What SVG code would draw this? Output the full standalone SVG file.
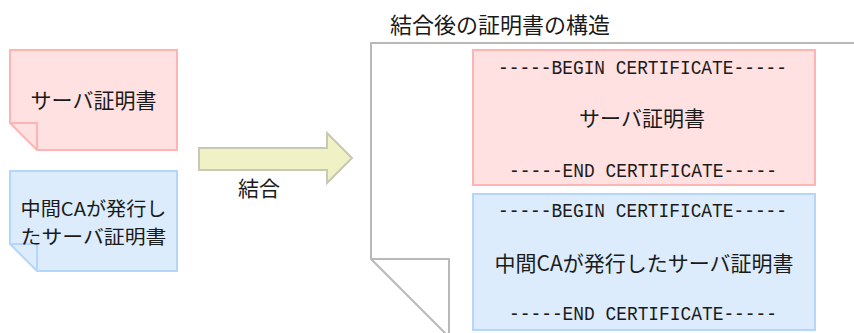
<svg xmlns="http://www.w3.org/2000/svg" width="854" height="333" viewBox="0 0 854 333">
<style>
.pink{fill:#ffe1e1;stroke:#ffb4b4;stroke-width:2}
.blue{fill:#dcecfc;stroke:#b4d6fa;stroke-width:2}
.fold{fill:none;stroke-width:2;stroke-linejoin:miter}
.doc{fill:#ffffff;stroke:#b9b9b9;stroke-width:2}
.jp{font-family:"Noto Sans CJK JP","Noto Sans",sans-serif;font-size:21px;fill:#1a1a1a;text-anchor:middle}
.mono{font-family:"Liberation Mono","DejaVu Sans Mono",monospace;font-size:21px;fill:#1a1a1a;text-anchor:middle}
</style>
<rect width="854" height="333" fill="#ffffff"/>
<g id="server-cert">
<path class="pink" d="M10,50 H177 V150 H37 L10,123 Z"/>
<path class="fold" stroke="#ffb4b4" d="M10,123 H37 V150"/>
<text class="jp" x="93.5" y="108">サーバ証明書</text>
</g>
<g id="intermediate-cert">
<path class="blue" d="M10,171 H177 V271 H37 L10,244 Z"/>
<path class="fold" stroke="#b4d6fa" d="M10,244 H37 V271"/>
<text class="jp" x="93.5" y="216" style="font-size:19px" textLength="146" lengthAdjust="spacingAndGlyphs">中間CAが発行し</text>
<text class="jp" x="93.5" y="244" style="font-size:19px" textLength="146" lengthAdjust="spacingAndGlyphs">たサーバ証明書</text>
</g>
<g id="connectors">
<path d="M199,148 H327 V133 L352,158 L327,183 V170 H199 Z" fill="#f1f1c6" stroke="#c8c8b4" stroke-width="2"/>
<text class="jp" x="259" y="196">結合</text>
</g>
<g id="combined-cert">
<text class="jp" x="500" y="33" style="font-size:22px">結合後の証明書の構造</text>
<path class="doc" d="M860,43 H371 V259 L449,337 V340"/>
<path class="fold" stroke="#b9b9b9" d="M371,259 H449 V340"/>
<g id="combined-server">
<rect class="pink" x="473" y="50" width="342" height="135"/>
<text class="mono" x="642.5" y="73.5" textLength="289" lengthAdjust="spacingAndGlyphs">-----BEGIN CERTIFICATE-----</text>
<text class="jp" x="642" y="126">サーバ証明書</text>
<text class="mono" x="643" y="177" textLength="268" lengthAdjust="spacingAndGlyphs">-----END CERTIFICATE-----</text>
</g>
<g id="combined-intermediate">
<rect class="blue" x="473" y="194" width="342" height="136"/>
<text class="mono" x="642.5" y="217" textLength="289" lengthAdjust="spacingAndGlyphs">-----BEGIN CERTIFICATE-----</text>
<text class="jp" x="644" y="271">中間CAが発行したサーバ証明書</text>
<text class="mono" x="643" y="320" textLength="268" lengthAdjust="spacingAndGlyphs">-----END CERTIFICATE-----</text>
</g>
</g>
</svg>
